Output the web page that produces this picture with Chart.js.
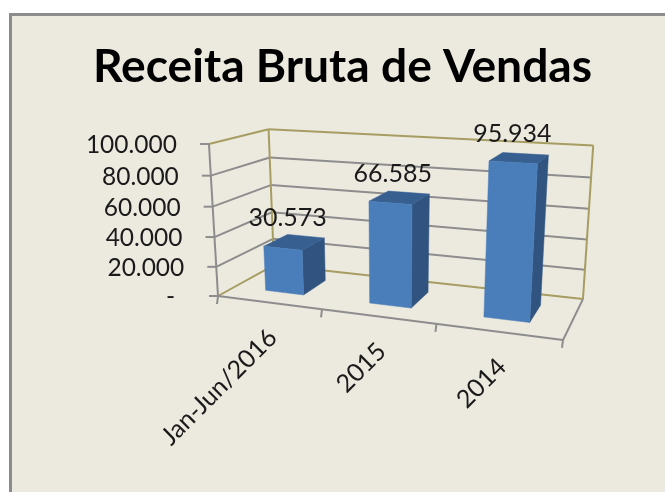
<!DOCTYPE html>
<html>
<head>
<meta charset="utf-8">
<style>
html,body{margin:0;padding:0;background:#fff;width:665px;height:492px;overflow:hidden}
#panel{position:absolute;left:9px;top:13px;width:656px;height:479px;box-sizing:border-box;border-left:3px solid #8c8c8c;border-top:3px solid #8c8c8c;background:#ece9df}
canvas{position:absolute;left:0;top:0;filter:blur(0.35px)}
</style>
<script src="https://cdn.jsdelivr.net/npm/chart.js@4/dist/chart.umd.min.js"></script>
</head>
<body>
<div id="panel"></div>
<canvas id="c" width="665" height="492"></canvas>
<script>
const chartTitle = 'Receita Bruta de Vendas';
const categories = ['Jan-Jun/2016', '2015', '2014'];
const revenue = [30573, 66585, 95934];
const valueLabels = ['30.573', '66.585', '95.934'];
const yTickLabels = ['-', '20.000', '40.000', '60.000', '80.000', '100.000'];

const FONT = 'Lato';
const TEXT = '#1a1a1a';
const GREY = '#8d8d8d';
const OLIVE = '#a79d62';
const FRONT = '#4a7ebb';
const SIDE = '#30547f';
const TOP = '#375f90';

// Camera: projective map of the plot box (u along categories, v along values, d into depth)
const cam = {
  x: [218, 267.9, -19.5, 90.4],
  y: [296, -2.6, -159.2, 2.3],
  w: [1, -0.137, -0.05, 0.1256]
};
function P(u, v, d) {
  const f = a => a[0] + a[1]*u + a[2]*v + a[3]*d;
  const W = f(cam.w);
  return [f(cam.x)/W, f(cam.y)/W];
}
function line(ctx, a, b, color, width) {
  ctx.beginPath(); ctx.moveTo(a[0], a[1]); ctx.lineTo(b[0], b[1]);
  ctx.strokeStyle = color; ctx.lineWidth = width; ctx.stroke();
}
function poly(ctx, pts, color) {
  ctx.beginPath();
  pts.forEach((p, i) => i ? ctx.lineTo(p[0], p[1]) : ctx.moveTo(p[0], p[1]));
  ctx.closePath(); ctx.fillStyle = color; ctx.fill();
  ctx.strokeStyle = color; ctx.lineWidth = 0.5; ctx.stroke();
}

const box3d = {
  id: 'box3d',
  beforeDatasetsDraw(chart) {
    const ctx = chart.ctx, ys = chart.scales.y, xs = chart.scales.x;
    const vOf = t => (ys.getPixelForValue(0) - ys.getPixelForValue(t)) / chart.chartArea.height;
    ctx.save();
    // gridlines on the side and back walls
    ys.ticks.forEach(t => {
      const v = vOf(t.value);
      if (v > 0 && v < 1) {
        line(ctx, P(0, v, 0), P(0, v, 1), GREY, 2);
        line(ctx, P(0, v, 1), P(1, v, 1), GREY, 2);
      }
    });
    // wall outline
    line(ctx, P(0, 0, 0), P(0, 0, 1), OLIVE, 2);
    line(ctx, P(0, 0, 1), P(1, 0, 1), OLIVE, 2);
    line(ctx, P(0, 0, 1), P(0, 1, 1), OLIVE, 2);
    line(ctx, P(0, 1, 0), P(0, 1, 1), OLIVE, 2);
    line(ctx, P(0, 1, 1), P(1, 1, 1), OLIVE, 2);
    line(ctx, P(1, 0, 1), P(1, 1, 1), OLIVE, 2);
    // front axes
    line(ctx, P(0, 0, 0), P(0, 1, 0), GREY, 2);
    line(ctx, P(0, 0, 0), P(1, 0, 0), GREY, 2);
    line(ctx, P(1, 0, 0), P(1, 0, 1), GREY, 2);
    // value ticks and labels
    ctx.font = '24.5px ' + FONT;
    ctx.fillStyle = TEXT;
    ctx.textAlign = 'right';
    ctx.textBaseline = 'middle';
    ys.ticks.forEach(t => {
      const p = P(0, vOf(t.value), 0);
      line(ctx, p, [p[0] - 9, p[1]], GREY, 2);
      ctx.fillStyle = TEXT;
      ctx.fillText(t.label, p[0] - (t.value === 0 ? 43 : 32), p[1] + 1);
    });
    // category ticks
    const n = categories.length;
    for (let i = 0; i <= n; i++) {
      const p = P(i / n, 0, 0);
      line(ctx, p, [p[0] - 1, p[1] + 8], GREY, 2);
    }
    // category labels
    categories.forEach((c, i) => {
      const px = xs.getPixelForTick(i);
      const p = P((px - chart.chartArea.left) / chart.chartArea.width, 0, 0);
      ctx.save();
      ctx.translate(p[0] + 4, p[1] + 31);
      ctx.rotate(-Math.PI / 4);
      ctx.textAlign = 'right';
      ctx.textBaseline = 'middle';
      ctx.fillStyle = TEXT;
      ctx.font = '25px ' + FONT;
      ctx.fillText(c, 0, 0);
      ctx.restore();
    });
    ctx.restore();
  },
  beforeDatasetDraw() { return false; },
  afterDatasetsDraw(chart) {
    const ctx = chart.ctx, a = chart.chartArea;
    const d0 = 0.28, d1 = 0.72;
    const meta = chart.getDatasetMeta(0);
    ctx.save();
    meta.data.forEach((el, i) => {
      const u0 = (el.x - el.width / 2 - a.left) / a.width;
      const u1 = (el.x + el.width / 2 - a.left) / a.width;
      const v = (el.base - el.y) / a.height;
      poly(ctx, [P(u1, 0, d0), P(u1, 0, d1), P(u1, v, d1), P(u1, v, d0)], SIDE);
      poly(ctx, [P(u0, v, d0), P(u1, v, d0), P(u1, v, d1), P(u0, v, d1)], TOP);
      poly(ctx, [P(u0, 0, d0), P(u1, 0, d0), P(u1, v, d0), P(u0, v, d0)], FRONT);
    });
    meta.data.forEach((el, i) => {
      const um = (el.x - a.left) / a.width;
      const v = (el.base - el.y) / a.height;
      const p = P(um, v, 0.5);
      ctx.font = '25px ' + FONT;
      ctx.fillStyle = TEXT;
      ctx.textAlign = 'center';
      ctx.textBaseline = 'middle';
      ctx.fillText(valueLabels[i], p[0] - 7, p[1] - 24);
    });
    ctx.restore();
  }
};

new Chart(document.getElementById('c'), {
  type: 'bar',
  data: {
    labels: categories,
    datasets: [{ data: revenue, backgroundColor: FRONT, barPercentage: 0.375, categoryPercentage: 1 }]
  },
  options: {
    responsive: false,
    animation: false,
    layout: { padding: { left: 20, top: 14 } },
    plugins: {
      legend: { display: false },
      tooltip: { enabled: false },
      title: {
        display: true,
        text: chartTitle,
        color: '#000',
        font: { family: FONT, size: 46.2, weight: 'bold' },
        padding: { top: 25, bottom: 0 }
      }
    },
    scales: {
      x: { display: false },
      y: { display: false, min: 0, max: 100000, ticks: { stepSize: 20000, callback: (v, i) => yTickLabels[i] } }
    }
  },
  plugins: [box3d]
});
</script>
</body>
</html>
